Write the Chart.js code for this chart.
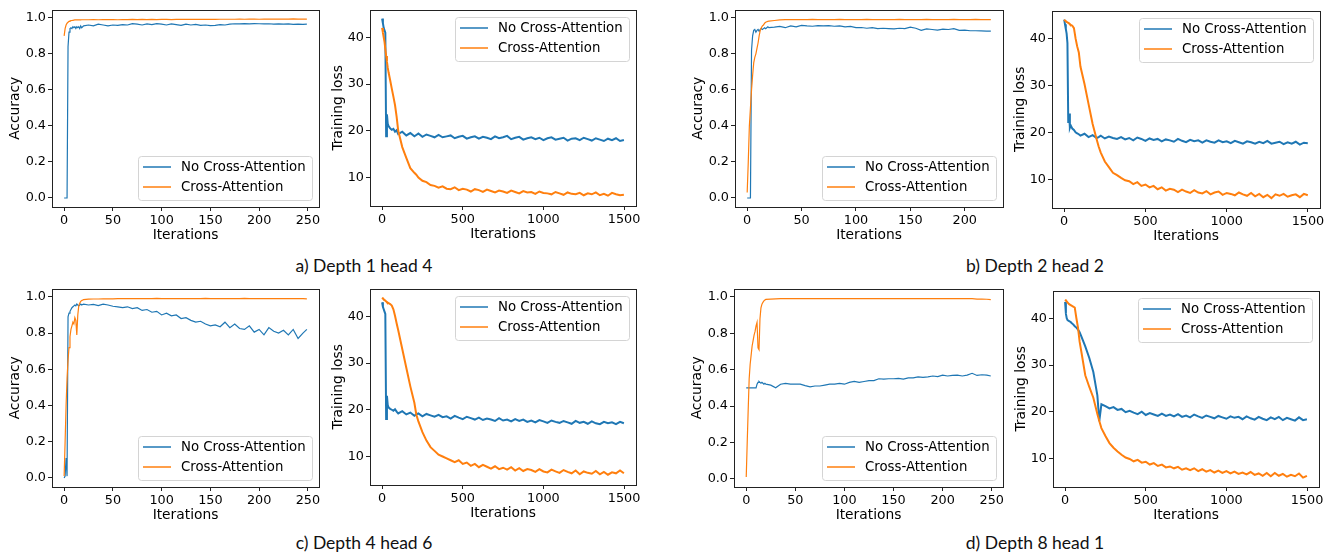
<!DOCTYPE html>
<html>
<head>
<meta charset="utf-8">
<script src="https://cdn.jsdelivr.net/npm/chart.js@4.4.0/dist/chart.umd.min.js"></script>
<style>
  body { margin: 0; background: #fff; width: 1327px; height: 552px; position: relative; overflow: hidden; }
  .cap { position: absolute; font-family: Lato, "Open Sans", sans-serif; font-size: 17.5px; line-height: 21px;
         color: #111; white-space: nowrap; transform: translateX(-50%); }
</style>
</head>
<body>
<div class="cap" style="left:364px;top:255px">a) Depth 1 head 4</div>
<div class="cap" style="left:1035px;top:255px">b) Depth 2 head 2</div>
<div class="cap" style="left:364px;top:532px">c) Depth 4 head 6</div>
<div class="cap" style="left:1035px;top:532px">d) Depth 8 head 1</div>
<script>
const BLUE = '#1f77b4';
const ORANGE = '#ff7f0e';
const FONT = '"DejaVu Sans", sans-serif';

// ---------- tick labels ----------
const accTicksY = [0, 0.2, 0.4, 0.6, 0.8, 1.0];
const accTicksX = [0, 50, 100, 150, 200, 250];
const accTicksXb = [0, 50, 100, 150, 200];
const lossTicksY = [10, 20, 30, 40];
const lossTicksX = [0, 500, 1000, 1500];

// ---------- accuracy iterations ----------
const accX = [0,1,2,3,4,5,6,7,8,9,10,11,12,13,14,15,16,17,18,19,20,
  25,30,35,40,45,50,55,60,65,70,75,80,85,90,95,100,105,110,115,120,
  125,130,135,140,145,150,155,160,165,170,175,180,185,190,195,200,205,210,215,220,
  225,230,235,240,245,249];
const accXb = [0,1,2,3,4,5,6,7,8,9,10,11,12,13,14,15,16,17,18,19,20,
  25,30,35,40,45,50,55,60,65,70,75,80,85,90,95,100,105,110,115,120,
  125,130,135,140,145,150,155,160,165,170,175,180,185,190,195,200,205,210,215,220,
  224];

// a) depth 1 head 4
const accA_no = [0,0,0,0,0.84,0.92,0.94,0.945,0.94,0.95,0.945,0.95,0.94,0.95,0.945,0.95,0.94,0.955,0.945,0.95,0.955,
  0.96,0.955,0.965,0.96,0.955,0.96,0.958,0.962,0.96,0.968,0.965,0.96,0.966,0.962,0.968,0.965,0.96,0.966,0.962,0.958,
  0.965,0.96,0.963,0.958,0.96,0.956,0.958,0.962,0.96,0.965,0.967,0.966,0.968,0.966,0.968,0.967,0.966,0.967,0.965,0.966,
  0.965,0.966,0.964,0.965,0.964,0.965];
const accA_ca = [0.9,0.94,0.96,0.97,0.975,0.98,0.982,0.984,0.985,0.986,0.987,0.988,0.988,0.988,0.989,0.988,0.989,0.988,0.989,0.989,0.989,
  0.989,0.99,0.989,0.99,0.99,0.99,0.989,0.99,0.99,0.991,0.99,0.991,0.99,0.991,0.99,0.991,0.991,0.99,0.991,0.991,
  0.991,0.991,0.992,0.991,0.991,0.992,0.991,0.992,0.992,0.992,0.992,0.993,0.992,0.993,0.993,0.992,0.993,0.993,0.993,0.993,
  0.993,0.993,0.994,0.993,0.993,0.993];

// b) depth 2 head 2
const accB_no = [0,0,0,0,0.82,0.9,0.93,0.935,0.92,0.93,0.935,0.925,0.935,0.94,0.935,0.94,0.945,0.94,0.945,0.95,0.945,
  0.948,0.952,0.945,0.955,0.95,0.958,0.955,0.953,0.957,0.955,0.957,0.953,0.955,0.95,0.952,0.945,0.946,0.942,0.945,0.94,
  0.942,0.94,0.938,0.942,0.94,0.948,0.942,0.93,0.938,0.935,0.932,0.937,0.935,0.94,0.93,0.932,0.928,0.928,0.927,0.926,
  0.926];
const accB_ca = [0.03,0.2,0.4,0.5,0.6,0.68,0.75,0.78,0.8,0.83,0.86,0.9,0.93,0.945,0.955,0.96,0.97,0.975,0.978,0.98,0.982,
  0.985,0.988,0.99,0.99,0.99,0.99,0.99,0.991,0.99,0.99,0.99,0.99,0.991,0.99,0.99,0.99,0.99,0.991,0.99,0.99,
  0.99,0.99,0.99,0.991,0.99,0.99,0.99,0.99,0.991,0.99,0.99,0.99,0.99,0.991,0.99,0.99,0.99,0.991,0.99,0.99,
  0.99];

// c) depth 4 head 6
const accC_no = [0,0.01,0.11,0.01,0.89,0.91,0.92,0.93,0.94,0.945,0.95,0.955,0.95,0.96,0.955,0.95,0.955,0.96,0.955,0.958,0.96,
  0.955,0.958,0.952,0.96,0.955,0.948,0.945,0.94,0.945,0.935,0.94,0.925,0.93,0.915,0.92,0.9,0.91,0.895,0.9,0.88,
  0.885,0.87,0.86,0.865,0.85,0.84,0.845,0.835,0.86,0.83,0.85,0.825,0.82,0.84,0.805,0.82,0.79,0.83,0.81,0.8,
  0.815,0.79,0.82,0.77,0.8,0.82];
const accC_ca = [0.01,0.2,0.4,0.55,0.65,0.72,0.78,0.82,0.84,0.86,0.85,0.885,0.87,0.79,0.9,0.95,0.965,0.975,0.98,0.982,0.985,
  0.987,0.988,0.988,0.989,0.989,0.989,0.99,0.99,0.99,0.99,0.99,0.99,0.99,0.99,0.991,0.99,0.99,0.99,0.99,0.99,
  0.99,0.99,0.99,0.99,0.991,0.99,0.99,0.99,0.99,0.99,0.99,0.99,0.991,0.99,0.99,0.99,0.99,0.99,0.99,0.99,
  0.99,0.99,0.99,0.99,0.99,0.989];

// d) depth 8 head 1
const accD_no = [0.5,0.5,0.5,0.5,0.5,0.5,0.5,0.5,0.5,0.5,0.5,0.52,0.53,0.535,0.53,0.525,0.53,0.525,0.52,0.525,0.52,
  0.515,0.5,0.52,0.525,0.52,0.52,0.52,0.512,0.505,0.51,0.51,0.515,0.52,0.52,0.525,0.52,0.53,0.535,0.53,0.535,
  0.54,0.54,0.55,0.548,0.55,0.55,0.552,0.548,0.555,0.555,0.56,0.558,0.56,0.565,0.562,0.57,0.565,0.568,0.57,0.565,
  0.57,0.58,0.568,0.572,0.57,0.565];
const accD_ca = [0.01,0.2,0.38,0.55,0.63,0.68,0.73,0.76,0.79,0.81,0.84,0.86,0.72,0.71,0.88,0.94,0.96,0.97,0.978,0.983,0.986,
  0.988,0.989,0.99,0.99,0.99,0.99,0.99,0.99,0.99,0.99,0.99,0.99,0.99,0.99,0.99,0.99,0.99,0.99,0.99,0.99,
  0.99,0.99,0.99,0.99,0.99,0.99,0.99,0.99,0.99,0.99,0.99,0.99,0.99,0.99,0.99,0.99,0.99,0.99,0.99,0.99,
  0.99,0.99,0.988,0.988,0.987,0.985];

// ---------- loss iterations ----------
const lossX = [0,5,10,15,20,25,30,35,40,50,60,70,80,90,
  100,125,150,175,200,212,225,250,275,300,325,
  350,375,400,425,450,475,500,525,550,575,
  600,625,650,675,700,725,750,775,800,825,
  850,875,900,925,950,975,1000,1025,1050,1075,
  1100,1125,1150,1175,1200,1225,1250,1275,1300,1325,
  1350,1375,1400,1425,1450,1475,1499];

const lossA_no = [44,43,42,41.5,41,18.8,23.5,21.5,21,20.5,20.2,20.4,19.8,20.1,
  19.3,19.8,19.0,19.5,18.8,19.1,19.4,18.7,19.2,18.9,18.6,
  19.1,18.6,18.8,19.0,18.4,18.7,18.9,18.3,18.6,18.8,
  18.3,18.7,18.5,18.2,18.8,18.4,18.6,18.9,18.2,18.5,
  18.7,18.1,18.4,18.6,18.2,18.5,18.0,18.4,18.6,18.1,
  18.3,18.5,17.9,18.3,18.4,18.0,18.5,18.2,17.9,18.4,
  18.1,17.8,18.3,18.0,18.4,17.8,18.0];
const lossA_ca = [42,41,40,39,37.5,36,34.8,33.5,32.5,30.8,29,27.3,25.5,23,
  20.0,16.5,14.2,12.0,11.0,10.6,10.0,9.3,9.0,8.4,8.2,
  7.8,8.1,7.6,7.5,7.9,7.3,7.6,7.4,7.0,7.5,
  7.3,6.9,7.4,7.1,6.8,7.2,7.0,6.7,7.2,6.9,
  6.6,7.1,6.8,6.9,6.5,7.0,6.7,6.6,6.4,6.9,
  6.6,6.3,6.8,6.5,6.4,6.7,6.2,6.6,6.4,6.8,
  6.2,6.5,6.1,6.7,6.4,6.2,6.3];

const lossB_no = [44,43,42,41,39,22,24,21,21.5,20.8,20.5,20.0,19.8,19.6,
  19.3,19.7,19.0,19.4,18.8,19.0,19.3,18.7,19.1,18.8,18.6,
  19.0,18.5,18.8,18.3,18.9,18.6,18.2,18.7,18.4,18.6,
  18.1,18.5,18.3,18.0,18.6,18.2,17.9,18.4,18.1,18.3,
  17.8,18.3,18.0,17.8,18.3,17.9,18.1,17.7,18.2,17.9,
  17.6,18.1,17.9,17.6,18.0,17.7,18.2,17.6,17.8,18.0,
  17.5,17.9,17.6,18.0,17.4,17.8,17.7];
const lossB_ca = [44,43.8,43.7,43.5,43.4,43.3,43.2,43.0,42.9,42.7,42.2,40.0,38.3,37.0,
  34.0,30.3,26.0,21.8,18.5,17.0,15.7,13.8,12.6,11.4,10.9,
  10.3,9.8,9.6,9.0,9.4,8.6,8.9,8.3,8.6,7.9,
  8.3,7.6,8.0,7.8,7.3,7.8,7.4,7.1,7.7,7.2,
  7.0,7.5,6.8,7.2,7.4,6.7,7.1,6.9,6.6,7.2,
  6.8,6.5,7.1,6.4,6.9,6.2,6.7,6.0,6.8,6.5,
  6.9,6.3,6.6,6.8,6.2,6.9,6.6];

const lossC_no = [43,42,41.5,41,40.5,18,23,21,20.5,20.2,20.0,19.8,20.1,19.6,
  19.2,19.7,19.0,19.4,18.7,19.0,19.2,18.6,19.1,18.8,18.5,
  18.9,18.4,18.6,18.1,18.7,18.3,18.0,18.5,18.2,17.9,
  18.3,17.8,18.1,17.9,17.6,18.2,17.7,17.9,17.5,18.0,
  17.6,17.9,17.4,17.7,17.3,17.8,17.5,17.2,17.7,17.4,
  17.2,17.6,17.3,17.0,17.6,17.2,17.4,17.0,17.5,17.1,
  16.9,17.4,17.1,17.3,16.9,17.4,17.1];
const lossC_ca = [44,43.8,43.6,43.5,43.3,43.2,43.0,42.9,42.8,42.6,42.3,41.5,40.1,38.5,
  37.0,33.0,29.0,25.0,21.5,19.0,17.5,15.2,13.4,12.0,11.2,
  10.4,10.0,9.6,9.2,8.8,9.2,8.4,8.7,8.0,8.4,
  7.7,8.2,7.8,7.4,7.9,7.3,7.6,7.2,7.7,7.0,
  7.5,6.9,7.3,7.1,6.7,7.3,6.8,6.6,7.2,6.8,
  6.5,7.1,6.7,6.4,7.0,6.2,6.8,6.5,6.3,6.9,
  6.2,6.7,6.1,6.6,6.4,7.0,6.4];

const lossD_no = [43.5,41,40,39.6,39.5,39.4,39.3,39.2,39.0,38.7,38.3,38.0,37.6,37.0,
  36.2,34.0,31.5,28.5,23.5,18.0,21.6,21.2,20.7,21.0,20.4,
  20.6,19.9,20.2,19.8,19.5,20.0,19.3,19.7,19.4,19.1,
  19.6,19.1,19.4,19.0,19.5,18.9,19.2,18.8,19.4,19.0,
  18.7,19.2,18.9,18.6,19.1,18.8,18.5,19.0,18.7,18.9,
  18.4,19.0,18.6,18.3,18.9,18.5,18.2,18.8,18.4,18.9,
  18.2,18.7,18.4,18.1,18.8,18.2,18.4];
const lossD_ca = [44,43.8,43.6,43.4,43.2,43.0,42.9,42.8,42.7,42.5,42.3,40.0,38.0,35.0,
  33.0,27.8,25.3,23.0,19.5,18.0,16.5,14.8,13.3,12.3,11.5,
  10.8,10.2,9.9,9.4,9.7,9.1,9.3,8.7,9.0,8.4,
  8.7,8.1,8.3,7.9,8.2,7.6,7.9,7.5,7.9,7.3,
  7.7,7.2,7.5,7.0,7.4,6.9,7.3,6.8,7.2,6.7,
  7.0,6.6,7.1,6.5,6.8,6.3,6.9,6.2,6.9,6.3,
  6.7,6.1,6.5,6.2,6.8,5.9,6.3];

// ---------- panels (box = left, top, right, bottom of the axes frame) ----------
const panels = [
  { box: [52, 8, 319, 207],     kind: 'acc',  xs: accX,  no: accA_no,  ca: accA_ca,  xr: [-12.45, 261.45], xt: accTicksX,  yr: [-0.05, 1.045] },
  { box: [370, 8, 636, 206],    kind: 'loss', xs: lossX, no: lossA_no, ca: lossA_ca, xr: [-75, 1574], xt: lossTicksX, yr: [3.9, 45.9] },
  { box: [735, 8, 1003, 207],   kind: 'acc',  xs: accXb, no: accB_no,  ca: accB_ca,  xr: [-11.2, 235.2],  xt: accTicksXb, yr: [-0.05, 1.045] },
  { box: [1052, 9, 1320, 208],  kind: 'loss', xs: lossX, no: lossB_no, ca: lossB_ca, xr: [-75, 1574], xt: lossTicksX, yr: [3.9, 45.9] },
  { box: [52, 287, 319, 487],   kind: 'acc',  xs: accX,  no: accC_no,  ca: accC_ca,  xr: [-12.45, 261.45], xt: accTicksX,  yr: [-0.05, 1.045] },
  { box: [370, 287, 636, 485],  kind: 'loss', xs: lossX, no: lossC_no, ca: lossC_ca, xr: [-75, 1574], xt: lossTicksX, yr: [3.9, 45.9] },
  { box: [734, 287, 1003, 487], kind: 'acc',  xs: accX,  no: accD_no,  ca: accD_ca,  xr: [-12.45, 261.45], xt: accTicksX,  yr: [-0.045, 1.045] },
  { box: [1053, 289, 1319, 487],kind: 'loss', xs: lossX, no: lossD_no, ca: lossD_ca, xr: [-75, 1574], xt: lossTicksX, yr: [3.9, 45.9] }
];

// frame around the plot area + matplotlib-like legend box
const frameLegend = {
  id: 'frameLegend',
  afterDraw(chart, args, opts) {
    const { ctx, chartArea: a } = chart;
    ctx.save();
    ctx.strokeStyle = '#222';
    ctx.lineWidth = 1;
    ctx.strokeRect(Math.round(a.left) + 0.5, Math.round(a.top) + 0.5,
                   Math.round(a.right - a.left), Math.round(a.bottom - a.top));

    ctx.font = '13.3px ' + FONT;
    const sets = chart.data.datasets;
    const tw = Math.max(...sets.map(d => ctx.measureText(d.label).width));
    const w = Math.round(43 + tw + 6), h = 44;
    const x = Math.round(a.right - 7 - w);
    const y = Math.round(opts.corner === 'top' ? a.top + 7 : a.bottom - 7 - h);
    ctx.beginPath();
    if (ctx.roundRect) ctx.roundRect(x + 0.5, y + 0.5, w, h, 3); else ctx.rect(x + 0.5, y + 0.5, w, h);
    ctx.fillStyle = 'rgba(255,255,255,0.8)';
    ctx.fill();
    ctx.strokeStyle = '#d4d4d4';
    ctx.stroke();
    sets.forEach((d, i) => {
      const ly = y + 11 + i * 20;
      ctx.strokeStyle = d.borderColor;
      ctx.lineWidth = 1.5;
      ctx.beginPath();
      ctx.moveTo(x + 5, ly);
      ctx.lineTo(x + 33, ly);
      ctx.stroke();
      ctx.fillStyle = '#000';
      ctx.textBaseline = 'middle';
      ctx.fillText(d.label, x + 43, ly + 0.5);
    });
    ctx.restore();
  }
};

function toXY(xs, ys) {
  return xs.map((x, i) => ({ x: x, y: ys[i] }));
}

function makePanel(p) {
  const [L, T, R, B] = p.box;
  const yw = 50, xh = 45, pt = 8, pr = 12;
  const acc = p.kind === 'acc';
  const w = yw + (R - L) + pr, h = pt + (B - T) + xh;
  const cv = document.createElement('canvas');
  cv.width = w; cv.height = h;
  cv.style.cssText = `position:absolute;left:${L - yw}px;top:${T - pt}px;width:${w}px;height:${h}px`;
  document.body.appendChild(cv);

  const lw = acc ? 1.2 : 2.0;
  new Chart(cv, {
    type: 'line',
    data: {
      datasets: [
        { label: 'No Cross-Attention', data: toXY(p.xs, p.no), borderColor: BLUE, borderWidth: lw, order: 1 },
        { label: 'Cross-Attention', data: toXY(p.xs, p.ca), borderColor: ORANGE, borderWidth: lw, order: 0 }
      ]
    },
    options: {
      responsive: false,
      animation: false,
      events: [],
      elements: { point: { radius: 0 }, line: { tension: 0 } },
      layout: { padding: { left: 0, top: pt, right: pr, bottom: 0 } },
      plugins: {
        legend: { display: false },
        tooltip: { enabled: false },
        frameLegend: { corner: acc ? 'bottom' : 'top' }
      },
      scales: {
        x: {
          type: 'linear',
          min: p.xr[0], max: p.xr[1],
          afterBuildTicks: s => { s.ticks = p.xt.map(v => ({ value: v })); },
          afterFit: s => { s.height = xh; },
          border: { display: false },
          grid: { drawOnChartArea: false, drawTicks: true, tickLength: 4, tickColor: '#222' },
          ticks: { color: '#000', font: { family: FONT, size: 12.8 }, padding: 2, maxRotation: 0, autoSkip: false,
                   callback: v => String(v) },
          title: { display: true, text: 'Iterations', color: '#000', font: { family: FONT, size: 13.8 },
                   padding: { top: 0, bottom: 8 } }
        },
        y: {
          type: 'linear',
          min: p.yr[0], max: p.yr[1],
          afterBuildTicks: s => { s.ticks = (acc ? accTicksY : lossTicksY).map(v => ({ value: v })); },
          afterFit: s => { s.width = yw; },
          border: { display: false },
          grid: { drawOnChartArea: false, drawTicks: true, tickLength: 4, tickColor: '#222' },
          ticks: { color: '#000', font: { family: FONT, size: 12.8 }, padding: 2,
                   callback: v => acc ? v.toFixed(1) : String(v) },
          title: { display: true, text: acc ? 'Accuracy' : 'Training loss', color: '#000',
                   font: { family: FONT, size: 13.8 }, padding: { top: acc ? 5.5 : 10, bottom: 0 } }
        }
      }
    },
    plugins: [frameLegend]
  });
}

panels.forEach(makePanel);
</script>
</body>
</html>
